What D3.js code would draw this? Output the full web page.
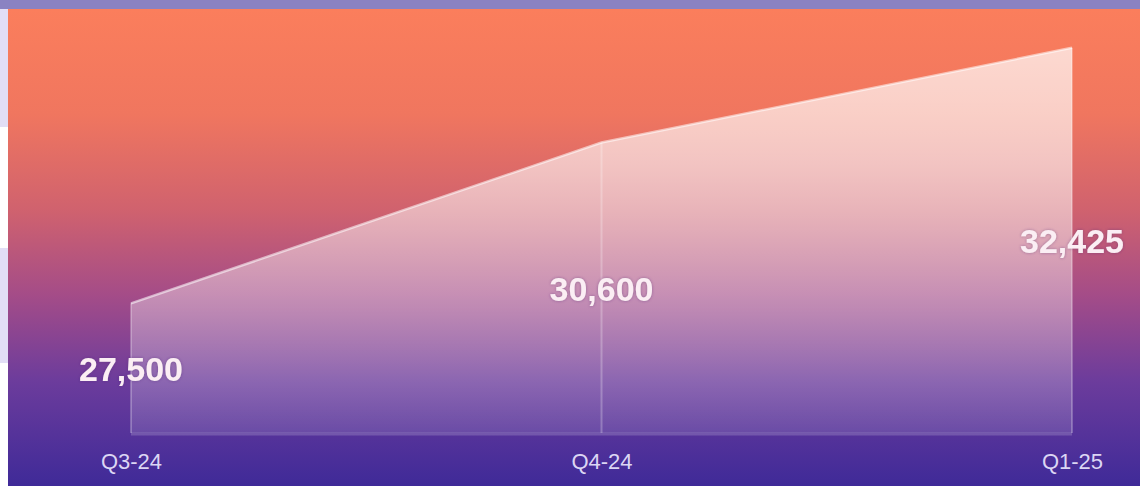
<!DOCTYPE html>
<html>
<head>
<meta charset="utf-8">
<script src="https://cdn.jsdelivr.net/npm/d3@7"></script>
<style>
  html, body { margin: 0; padding: 0; background: #ffffff; }
  svg { display: block; }
</style>
</head>
<body>
<svg id="chart" width="1140" height="486"></svg>
<script>
// Quarterly totals
const quarters = ["Q3-24", "Q4-24", "Q1-25"];
const totals = [27500, 30600, 32425];
const valueDomain = [25000, 33000];

const W = 1140, H = 486;
const svg = d3.select("#chart");
const defs = svg.append("defs");

// page chrome: top band and left side strip
svg.append("rect").attr("x", 0).attr("y", 0).attr("width", W).attr("height", 9).attr("fill", "#8a82c2");
svg.append("rect").attr("x", 0).attr("y", 9).attr("width", 8).attr("height", 118).attr("fill", "#e2def6");
svg.append("rect").attr("x", 0).attr("y", 248).attr("width", 8).attr("height", 115).attr("fill", "#e2def6");

// panel background gradient (orange -> purple)
const bg = defs.append("linearGradient").attr("id", "bg")
  .attr("x1", 0).attr("y1", 0).attr("x2", 0).attr("y2", 1);
[[0, "#fb7e5c"], [0.22, "#f0765f"], [0.42, "#d0626e"], [0.6, "#a44c88"],
 [0.78, "#6c3c9c"], [1, "#3f2a98"]].forEach(([o, c]) =>
  bg.append("stop").attr("offset", o).attr("stop-color", c));
svg.append("rect").attr("x", 8).attr("y", 9).attr("width", W - 8).attr("height", H - 9)
  .attr("fill", "url(#bg)");

// scales
const x = d3.scalePoint().domain(quarters).range([131, 1072]);
const y = d3.scaleLinear().domain(valueDomain).range([433, 18]);
const base = y(valueDomain[0]);
const data = quarters.map((q, i) => ({ q, v: totals[i] }));

// area fill: translucent white fading downward
const af = defs.append("linearGradient").attr("id", "areaFill")
  .attr("gradientUnits", "userSpaceOnUse")
  .attr("x1", 0).attr("y1", y(valueDomain[1])).attr("x2", 0).attr("y2", base);
[[0, 0.74], [0.35, 0.6], [0.7, 0.35], [1, 0.12]].forEach(([o, a]) =>
  af.append("stop").attr("offset", o).attr("stop-color", "#ffffff").attr("stop-opacity", a));

const area = d3.area().x(d => x(d.q)).y0(base).y1(d => y(d.v));
svg.append("path").datum(data).attr("d", area).attr("fill", "url(#areaFill)");

// faint vertical guides at each quarter
svg.selectAll("line.guide").data(data).join("line")
  .attr("class", "guide")
  .attr("x1", d => x(d.q)).attr("x2", d => x(d.q))
  .attr("y1", d => y(d.v)).attr("y2", base)
  .attr("stroke", "#ffffff").attr("stroke-opacity", 0.25).attr("stroke-width", 2);

// top edge line
const line = d3.line().x(d => x(d.q)).y(d => y(d.v));
svg.append("path").datum(data).attr("d", line)
  .attr("fill", "none").attr("stroke", "#ffffff").attr("stroke-opacity", 0.55).attr("stroke-width", 2.5);

// baseline
svg.append("line").attr("x1", x(quarters[0])).attr("x2", x(quarters[quarters.length - 1]))
  .attr("y1", base + 1).attr("y2", base + 1)
  .attr("stroke", "#ffffff").attr("stroke-opacity", 0.18).attr("stroke-width", 3);

// soft glow behind value labels
const glow = defs.append("filter").attr("id", "glow")
  .attr("x", "-20%").attr("y", "-40%").attr("width", "140%").attr("height", "180%");
glow.append("feGaussianBlur").attr("in", "SourceAlpha").attr("stdDeviation", 1.6).attr("result", "b");
glow.append("feFlood").attr("flood-color", "#4a2a70").attr("flood-opacity", 0.45);
glow.append("feComposite").attr("in2", "b").attr("operator", "in").attr("result", "s");
const m = glow.append("feMerge");
m.append("feMergeNode").attr("in", "s");
m.append("feMergeNode").attr("in", "SourceGraphic");

// value labels, centred halfway between point and baseline
const fmt = d3.format(",");
svg.selectAll("text.val").data(data).join("text")
  .attr("class", "val")
  .attr("x", d => x(d.q))
  .attr("y", d => (y(d.v) + base) / 2 + 1)
  .attr("text-anchor", "middle")
  .attr("dominant-baseline", "central")
  .attr("font-family", "'Liberation Sans', Arial, sans-serif")
  .attr("font-weight", "bold")
  .attr("font-size", 34)
  .attr("fill", "#fbeef4")
  .attr("filter", "url(#glow)")
  .text(d => fmt(d.v));

// category axis
const axis = svg.append("g").attr("transform", `translate(0,${base})`)
  .call(d3.axisBottom(x).tickSize(0).tickPadding(20));
axis.select(".domain").remove();
axis.selectAll("text")
  .attr("font-family", "'Liberation Sans', Arial, sans-serif")
  .attr("font-size", 22)
  .attr("fill", "#dcd6f4");
</script>
</body>
</html>
